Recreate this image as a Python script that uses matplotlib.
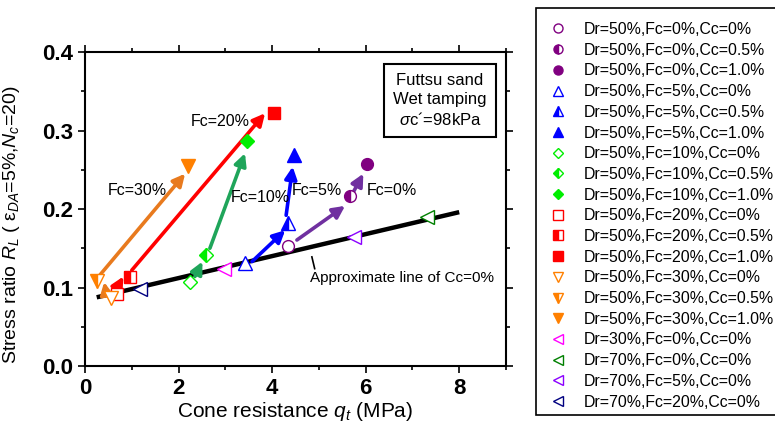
import numpy as np
import matplotlib
matplotlib.use('Agg')
import matplotlib.pyplot as plt
from matplotlib.lines import Line2D
from matplotlib.patches import Rectangle

plt.rcParams['font.family'] = ['Liberation Sans', 'DejaVu Sans']
plt.rcParams['mathtext.fontset'] = 'custom'
plt.rcParams['mathtext.rm'] = 'Liberation Sans'
plt.rcParams['mathtext.it'] = 'Liberation Sans:italic'

# Data

labels = ['Dr=50%,Fc=0%,Cc=0%', 'Dr=50%,Fc=0%,Cc=0.5%', 'Dr=50%,Fc=0%,Cc=1.0%',
          'Dr=50%,Fc=5%,Cc=0%', 'Dr=50%,Fc=5%,Cc=0.5%', 'Dr=50%,Fc=5%,Cc=1.0%',
          'Dr=50%,Fc=10%,Cc=0%', 'Dr=50%,Fc=10%,Cc=0.5%', 'Dr=50%,Fc=10%,Cc=1.0%',
          'Dr=50%,Fc=20%,Cc=0%', 'Dr=50%,Fc=20%,Cc=0.5%', 'Dr=50%,Fc=20%,Cc=1.0%',
          'Dr=50%,Fc=30%,Cc=0%', 'Dr=50%,Fc=30%,Cc=0.5%', 'Dr=50%,Fc=30%,Cc=1.0%',
          'Dr=30%,Fc=0%,Cc=0%', 'Dr=70%,Fc=0%,Cc=0%', 'Dr=70%,Fc=5%,Cc=0%',
          'Dr=70%,Fc=20%,Cc=0%']
qt = [4.34, 5.67, 6.03,
      3.42, 4.33, 4.46,
      2.25, 2.58, 3.47,
      0.68, 0.96, 4.03,
      0.55, 0.25, 2.21,
      2.98, 7.31, 5.75, 1.18]
RL = [0.153, 0.216, 0.257,
      0.131, 0.182, 0.269,
      0.107, 0.141, 0.286,
      0.092, 0.114, 0.322,
      0.086, 0.108, 0.255,
      0.123, 0.190, 0.164, 0.098]
markers = ['o', 'o', 'o', '^', '^', '^', 'D', 'D', 'D', 's', 's', 's',
           'v', 'v', 'v', '<', '<', '<', '<']
fills = ['none', 'left', 'full'] * 5 + ['none'] * 4
colors = ['#800080'] * 3 + ['#0000FF'] * 3 + ['#00EE00'] * 3 + ['#FF0000'] * 3 + \
         ['#FF8000'] * 3 + ['#FF00FF', '#008000', '#8B00FF', '#000080']

# approximate line of Cc=0%
line_q = [0.25, 8.0]
line_R = [0.0875, 0.196]

# arrows (start -> end)
arrow_start = [(0.32, 0.116), (0.46, 0.090), (0.64, 0.095), (1.00, 0.122),
               (2.35, 0.114), (2.67, 0.150), (3.57, 0.133), (4.30, 0.192),
               (4.53, 0.1605), (5.74, 0.222)]
arrow_end = [(2.14, 0.245), (0.41, 0.107), (0.82, 0.114), (3.85, 0.322),
             (2.51, 0.133), (3.42, 0.271), (4.28, 0.173), (4.44, 0.254),
             (5.56, 0.204), (5.95, 0.245)]
arrow_colors = ['#E87A1E', '#E87A1E', '#FF0000', '#FF0000', '#1FA55A', '#1FA55A',
                '#0000FF', '#0000FF', '#7030A0', '#7030A0']

fc_labels = ['Fc=30%', 'Fc=20%', 'Fc=10%', 'Fc=5%', 'Fc=0%']
fc_pos = [(1.12, 0.224), (2.89, 0.311), (3.74, 0.215), (4.96, 0.223), (6.57, 0.223)]

# Plot

fig = plt.figure(figsize=(7.75, 4.25), dpi=100)
ax = fig.add_axes([85/775, 1 - 366/425, 421/775, 314/425])

ax.plot(line_q, line_R, color='black', lw=3.2, solid_capstyle='butt', zorder=2)

for s, e, c in zip(arrow_start, arrow_end, arrow_colors):
    ax.annotate('', xy=e, xytext=s,
                arrowprops=dict(arrowstyle='-|>', lw=2.6, color=c, mutation_scale=18,
                                shrinkA=0, shrinkB=0), zorder=3)

handles = []
for x, y, m, f, c, lab in zip(qt, RL, markers, fills, colors, labels):
    ms = 8.5 if m in ('o', 's') else 9.5
    if m == 'D':
        ms = 7.5
    if f == 'none':
        kw = dict(markerfacecolor='white', markeredgecolor=c)
    elif f == 'left':
        kw = dict(fillstyle='left', markerfacecolor=c, markerfacecoloralt='white', markeredgecolor=c)
    else:
        kw = dict(markerfacecolor=c, markeredgecolor=c)
    ax.plot([x], [y], marker=m, ms=ms, mew=1.0, ls='none', zorder=4, **kw)
    handles.append(Line2D([], [], marker=m, ms=ms - 2, mew=1.0, ls='none', label=lab, **kw))

for t, (x, y) in zip(fc_labels, fc_pos):
    ax.text(x, y, t, ha='center', va='center', fontsize=11.5)

ax.text(4.80, 0.1125, 'Approximate line of Cc=0%', ha='left', va='center', fontsize=11)
ax.plot([4.85, 4.91], [0.139, 0.124], color='black', lw=1.2)

ax.text(0.843, 0.845, 'Futtsu sand\nWet tamping\n$\\sigma$c´=98kPa', transform=ax.transAxes,
        ha='center', va='center', fontsize=12, linespacing=1.3,
        bbox=dict(boxstyle='square,pad=0.55', facecolor='white', edgecolor='black', lw=1.5))

ax.set_xlim(0, 9)
ax.set_ylim(0, 0.4)
ax.set_xticks([0, 2, 4, 6, 8])
ax.set_xticks([1, 3, 5, 7, 9], minor=True)
ax.set_yticks([0.0, 0.1, 0.2, 0.3, 0.4])
ax.set_yticks([0.05, 0.15, 0.25, 0.35], minor=True)
ax.set_yticklabels(['0.0', '0.1', '0.2', '0.3', '0.4'])
ax.tick_params(which='both', direction='out', top=True, right=True, width=1.2)
ax.tick_params(which='major', length=5, labelsize=16)
ax.tick_params(which='minor', length=3)
for lbl in ax.get_xticklabels() + ax.get_yticklabels():
    lbl.set_fontweight('bold')
for sp in ax.spines.values():
    sp.set_linewidth(1.5)

ax.set_xlabel('Cone resistance $q_t$ (MPa)', fontsize=15, labelpad=1)
ax.set_ylabel('Stress ratio $R_L$ ( ε$_{DA}$=5%,$N_c$=20)', fontsize=14)
ax.yaxis.set_label_coords(-0.15, 0.45)

fig.patches.append(Rectangle((536/775, 1 - 415/425), 260/775, 407/425, transform=fig.transFigure,
                             facecolor='white', edgecolor='black', lw=1.2, zorder=0))
fig.legend(handles=handles, loc='upper left', bbox_to_anchor=(542/775, 1 - 22/425),
           frameon=False, fontsize=11.4, labelspacing=0.36, handletextpad=0.65,
           handlelength=2.0, borderaxespad=0, borderpad=0)

fig.savefig('out.png', dpi=100)
